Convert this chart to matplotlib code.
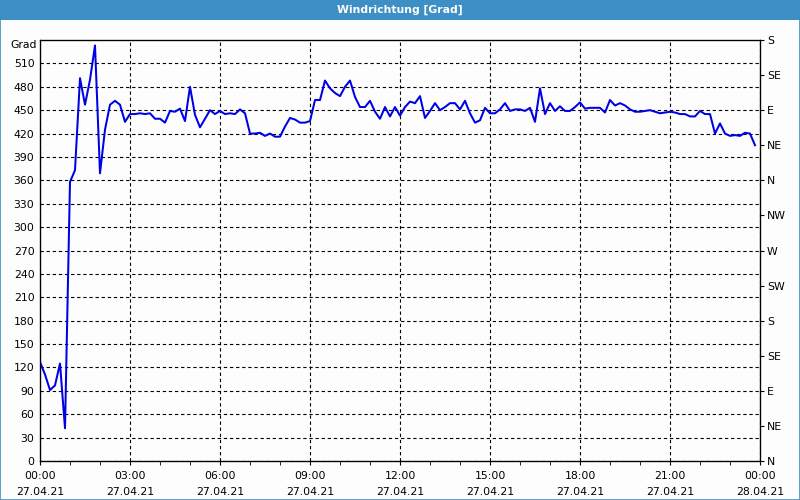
import matplotlib.pyplot as plt
import matplotlib.dates as mdates
from matplotlib.patches import Rectangle
import pandas as pd

# wind direction in degrees, one value every 10 minutes on 27.04.21
start = "2021-04-27 00:00"
step = "10min"
direction = [
    127, 111, 91, 97, 125, 42, 358, 373, 491, 457,
    489, 533, 369, 425, 457, 462, 457, 435, 445, 445,
    446, 445, 446, 439, 439, 434, 449, 448, 452, 436,
    480, 444, 428, 439, 450, 445, 449, 445, 446, 445,
    451, 446, 420, 420, 421, 417, 420, 416, 416, 429,
    440, 438, 434, 434, 436, 463, 463, 488, 478, 472,
    468, 480, 488, 467, 454, 454, 462, 448, 439, 454,
    442, 454, 443, 454, 461, 459, 468, 440, 449, 459,
    450, 454, 459, 459, 451, 462, 446, 434, 437, 453,
    446, 446, 451, 459, 449, 451, 451, 449, 453, 435,
    478, 445, 459, 449, 455, 449, 449, 454, 460, 452,
    453, 453, 453, 447, 463, 456, 459, 456, 451, 448,
    448, 449, 450, 448, 446, 447, 448, 447, 445, 445,
    442, 442, 449, 445, 445, 420, 433, 420, 417, 418,
    417, 421, 420, 405,
]
compass = ["N", "NE", "E", "SE", "S", "SW", "W", "NW", "N", "NE", "E", "SE", "S"]

times = pd.date_range(start, periods=len(direction), freq=step)

plt.rcParams['font.family'] = ['DejaVu Sans']
fig = plt.figure(figsize=(8, 5), dpi=100, facecolor='#fcfdfc')
ax = fig.add_axes([0.05, 0.078, 0.90, 0.842])
ax.set_facecolor('#fcfdfc')

ax.plot(times, direction, color='#0000e6', lw=1.45)

t0 = pd.Timestamp(start)
ax.set_xlim(t0, t0 + pd.Timedelta(hours=24))
ax.set_ylim(0, 540)
ax.set_yticks(range(0, 540, 30))
ax.tick_params(axis='y', length=0, pad=4, labelsize=7.8)
ax.xaxis.set_major_locator(mdates.HourLocator(byhour=range(0, 24, 3)))
ax.xaxis.set_minor_locator(mdates.HourLocator())
ax.xaxis.set_major_formatter(mdates.DateFormatter('%H:%M\n%d.%m.%y'))
ax.tick_params(axis='x', which='both', length=3, pad=4, labelsize=7.8)
for lab in ax.get_xticklabels():
    lab.set_linespacing(1.75)
ax.grid(True, color='black', linestyle=(0, (3, 2.5)), linewidth=0.8)
for s in ax.spines.values():
    s.set_linewidth(0.9)

ax2 = ax.twinx()
ax2.set_ylim(0, 540)
ax2.set_yticks(range(0, 541, 45))
ax2.set_yticklabels(compass)
ax2.tick_params(axis='y', length=3, pad=2, labelsize=7.8)

fig.text(0.046, 0.91, 'Grad', ha='right', va='center', fontsize=7.8)

# title bar and window border
fig.patches.append(Rectangle((0, 0.96), 1, 0.04, transform=fig.transFigure,
                             facecolor='#3d8fc6', edgecolor='none'))
fig.patches.append(Rectangle((0.0006, 0.001), 0.9988, 0.998, transform=fig.transFigure,
                             facecolor='none', edgecolor='#3d8fc6', lw=1.2))
fig.text(0.5, 0.98, 'Windrichtung [Grad]', ha='center', va='center',
         color='white', fontsize=7.8, fontweight='bold')

fig.savefig('out.png', dpi=100, facecolor=fig.get_facecolor())
